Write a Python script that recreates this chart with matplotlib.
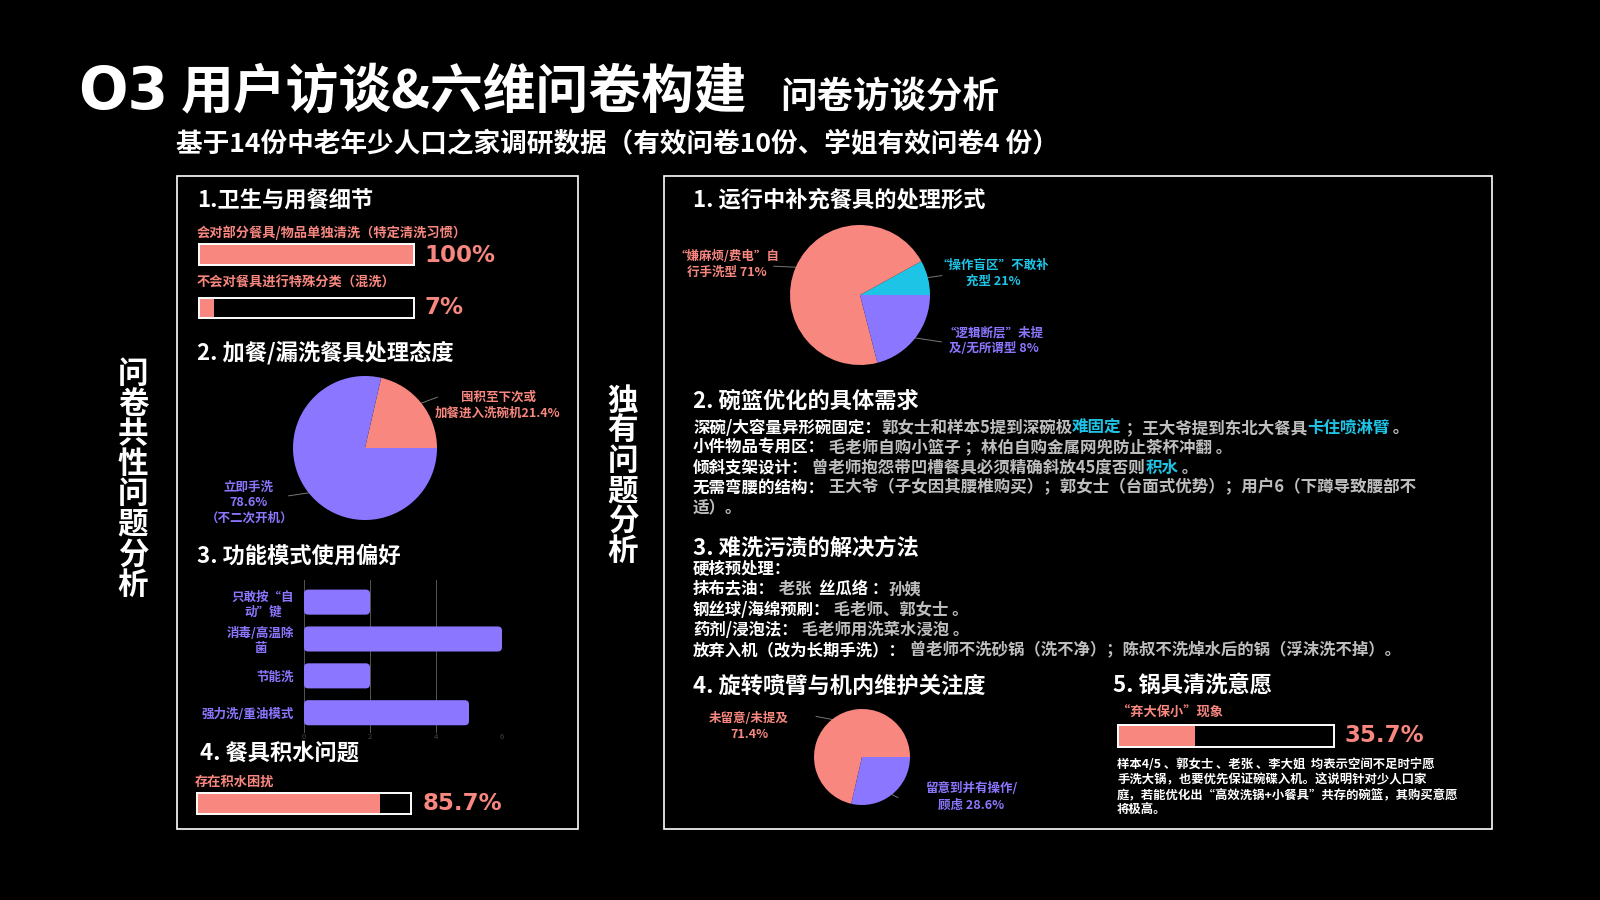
import matplotlib
matplotlib.use("Agg")
import matplotlib.pyplot as plt
import numpy as np
from matplotlib.patches import FancyBboxPatch, Rectangle

plt.rcParams['font.family'] = ['Noto Sans CJK SC', 'DejaVu Sans']

RED = "#F8877F"
PURPLE = "#8B77FF"
CYAN = "#1DC4E6"
GRAY = "#BEBEBE"
WHITE = "#FFFFFF"

# ---- data ----
hygiene_labels = ["会对部分餐具/物品单独清洗（特定清洗习惯）", "不会对餐具进行特殊分类（混洗）"]
hygiene_pct = [100, 7]

extra_share = [21.4, 78.6]
extra_labels = ["囤积至下次或\n加餐进入洗碗机21.4%", "立即手洗\n78.6%\n（不二次开机）"]

mode_labels = ["只敢按“自\n动”键", "消毒/高温除\n菌", "节能洗", "强力洗/重油模式"]
mode_counts = [2, 6, 2, 5]
mode_ticks = [0, 2, 4, 6]

water_label = "存在积水困扰"
water_pct = 85.7

refill_share = [8, 71, 21]   # slice sizes as drawn
refill_labels = ["“操作盲区”不敢补\n充型 21%", "“嫌麻烦/费电”自\n行手洗型 71%", "“逻辑断层”未提\n及/无所谓型 8%"]

arm_share = [71.4, 28.6]
arm_labels = ["未留意/未提及\n71.4%", "留意到并有操作/\n顾虑 28.6%"]

pot_label = "“弃大保小”现象"
pot_pct = 35.7

basket_lines = [
    [("深碗/大容量异形碗固定：", WHITE), ("郭女士和样本5提到深碗极", GRAY), ("难固定", CYAN),
     (" ；王大爷提到东北大餐具", GRAY), ("卡住喷淋臂", CYAN), (" 。", GRAY)],
    [("小件物品专用区：", WHITE), (" 毛老师自购小篮子 ；林伯自购金属网兜防止茶杯冲翻 。", GRAY)],
    [("倾斜支架设计：", WHITE), (" 曾老师抱怨带凹槽餐具必须精确斜放45度否则", GRAY), ("积水", CYAN), (" 。", GRAY)],
    [("无需弯腰的结构：", WHITE), (" 王大爷（子女因其腰椎购买）；郭女士（台面式优势）；用户6（下蹲导致腰部不", GRAY)],
    [("适）。", GRAY)],
]
stain_lines = [
    [("硬核预处理：", WHITE)],
    [("抹布去油：", WHITE), (" 老张  ", GRAY), ("丝瓜络 ：", WHITE), ("孙姨", GRAY)],
    [("钢丝球/海绵预刷：", WHITE), (" 毛老师、郭女士 。", GRAY)],
    [("药剂/浸泡法：", WHITE), (" 毛老师用洗菜水浸泡 。", GRAY)],
    [("放弃入机（改为长期手洗）：", WHITE), (" 曾老师不洗砂锅（洗不净）；陈叔不洗焯水后的锅（浮沫洗不掉）。", GRAY)],
]
pot_text = ["样本4/5 、郭女士 、老张 、李大姐  均表示空间不足时宁愿",
            "手洗大锅，也要优先保证碗碟入机。这说明针对少人口家",
            "庭，若能优化出“高效洗锅+小餐具”共存的碗篮，其购买意愿",
            "将极高。"]

# ---- figure ----
fig = plt.figure(figsize=(16, 9), dpi=100, facecolor="black")
bg = fig.add_axes([0, 0, 1, 1])
bg.set_xlim(0, 1600)
bg.set_ylim(900, 0)
bg.axis("off")
renderer = fig.canvas.get_renderer()


def px_axes(x0, y0, x1, y1):
    return fig.add_axes([x0 / 1600, 1 - y1 / 900, (x1 - x0) / 1600, (y1 - y0) / 900])


def txt(x, y, s, size, color=WHITE, **kw):
    kw.setdefault("va", "center")
    kw.setdefault("ha", "left")
    return bg.text(x, y, s, fontsize=size, color=color, fontweight="bold", **kw)


def rich(x, y, parts, size):
    for s, c in parts:
        t = txt(x, y, s, size, c)
        x += t.get_window_extent(renderer=renderer).width


def progress(x0, y0, x1, y1, pct):
    ax = px_axes(x0, y0, x1, y1)
    ax.barh([0], [pct], height=1, color=RED)
    ax.set_xlim(0, 100)
    ax.set_ylim(-0.5, 0.5)
    ax.set_facecolor("black")
    ax.set_xticks([])
    ax.set_yticks([])
    for s in ax.spines.values():
        s.set_color(WHITE)
        s.set_linewidth(1.4)


def pie(cx, cy, r, vals, colors):
    ax = px_axes(cx - r, cy - r, cx + r, cy + r)
    ax.pie(vals, colors=colors, startangle=0, counterclock=True, radius=1,
           wedgeprops=dict(linewidth=0))
    ax.set_xlim(-1, 1)
    ax.set_ylim(-1, 1)
    ax.set_aspect("equal")
    # mid angles of slices
    edges = np.cumsum([0] + list(vals)) / sum(vals) * 360
    return [(edges[i] + edges[i + 1]) / 2 for i in range(len(vals))]


def leader(cx, cy, r, ang, dx, dy):
    a = np.radians(ang)
    x0, y0 = cx + r * np.cos(a), cy - r * np.sin(a)
    bg.plot([x0, x0 + dx], [y0, y0 + dy], color="#777777", lw=0.7)


# ---- headers ----
txt(78, 92, "O3", 42, family="DejaVu Sans")
txt(181, 92, "用户访谈&六维问卷构建", 38)
txt(780, 97, "问卷访谈分析", 26.3)
txt(176, 145, "基于14份中老年少人口之家调研数据（有效问卷10份、学姐有效问卷4 份）", 19.2)

# panels
bg.add_patch(Rectangle((177, 176), 401, 653, fill=False, edgecolor=WHITE, lw=1.2))
bg.add_patch(Rectangle((664, 176), 828, 653, fill=False, edgecolor=WHITE, lw=1.2))

for i, ch in enumerate("问卷共性问题分析"):
    txt(133, 374 + i * 30.1, ch, 22, ha="center")
for i, ch in enumerate("独有问题分析"):
    txt(623, 401 + i * 30.0, ch, 22, ha="center")

# ---- left panel ----
txt(197, 200, "1.卫生与用餐细节", 16)
txt(197, 233, hygiene_labels[0], 9.5, RED)
progress(199, 244, 414, 265, hygiene_pct[0])
txt(424, 255, f"{hygiene_pct[0]}%", 16.5, RED, family="DejaVu Sans")
txt(197, 283, hygiene_labels[1], 9.5, RED)
progress(199, 298, 414, 318, hygiene_pct[1])
txt(424, 308, f"{hygiene_pct[1]}%", 16.5, RED, family="DejaVu Sans")

txt(197, 353, "2. 加餐/漏洗餐具处理态度", 16)
mids = pie(365, 448, 72, extra_share, [RED, PURPLE])
leader(365, 448, 72, mids[0], 16, -6)
leader(365, 448, 72, mids[1], -20, 3)
txt(498, 405, extra_labels[0], 9, RED, ha="center", multialignment="center", linespacing=1.25)
txt(249, 503, extra_labels[1], 9, PURPLE, ha="center", multialignment="center", linespacing=1.25)

txt(197, 556, "3. 功能模式使用偏好", 16)
ax3 = px_axes(304, 580, 502, 733)
ax3.set_facecolor("black")
ypos = np.arange(len(mode_counts))
bars = ax3.barh(ypos, mode_counts, height=0.68, color=PURPLE)
for b in bars:
    ax3.add_patch(FancyBboxPatch((b.get_x(), b.get_y()), b.get_width(), b.get_height(),
                                 boxstyle="round,pad=0,rounding_size=0.13", mutation_aspect=0.88,
                                 facecolor=PURPLE, edgecolor="none", zorder=3))
    b.set_visible(False)
ax3.set_xlim(0, 6)
ax3.set_ylim(len(mode_counts) - 0.45, -0.6)
ax3.set_yticks(ypos, mode_labels)
for t in ax3.get_yticklabels():
    t.set_multialignment("center")
    t.set_color(PURPLE)
    t.set_fontsize(9)
    t.set_fontweight("bold")
ax3.set_xticks(mode_ticks, [str(v) for v in mode_ticks])
ax3.tick_params(axis="x", colors="#444444", labelsize=5.5, length=0, pad=0)
ax3.tick_params(axis="y", length=0, pad=7)
for v in mode_ticks:
    ax3.axvline(v, color="#DDDDDD" if v == 6 else "#555555", lw=0.7, zorder=1)
for s in ax3.spines.values():
    s.set_visible(False)

txt(200, 753, "4. 餐具积水问题", 16)
txt(195, 782, water_label, 9.5, RED)
progress(197, 793, 411, 814, water_pct)
txt(423, 804, f"{water_pct}%", 16.5, RED, family="DejaVu Sans")

# ---- right panel ----
txt(693, 200, "1. 运行中补充餐具的处理形式", 16)
mids = pie(860, 295, 70, refill_share, [CYAN, RED, PURPLE])
leader(860, 295, 70, mids[0], 14, -2)
leader(860, 295, 70, mids[1], -22, -1)
leader(860, 295, 70, mids[2], 26, 4)
txt(993, 273, refill_labels[0], 9, CYAN, ha="center", multialignment="center", linespacing=1.3)
txt(727, 264, refill_labels[1], 9, RED, ha="center", multialignment="center", linespacing=1.3)
txt(994, 341, refill_labels[2], 9, PURPLE, ha="center", multialignment="center", linespacing=1.3)

txt(693, 401, "2. 碗篮优化的具体需求", 16)
for i, parts in enumerate(basket_lines):
    rich(693, 428 + i * 19.8, parts, 11.9)

txt(693, 548, "3. 难洗污渍的解决方法", 16)
for i, parts in enumerate(stain_lines):
    rich(693, 569 + i * 20.3, parts, 11.8)

txt(693, 686, "4. 旋转喷臂与机内维护关注度", 16)
mids = pie(862, 757, 48, arm_share, [RED, PURPLE])
leader(862, 757, 48, mids[0], -16, -3)
leader(862, 757, 48, mids[1], 6, 3)
txt(749, 727, arm_labels[0], 9, RED, ha="center", multialignment="center", linespacing=1.3)
txt(971, 797, arm_labels[1], 9, PURPLE, ha="center", multialignment="center", linespacing=1.3)

txt(1113, 686, "5. 锅具清洗意愿", 16)
txt(1117, 713, pot_label, 9.5, RED)
progress(1118, 725, 1334, 747, pot_pct)
txt(1345, 736, f"{pot_pct}%", 16.5, RED, family="DejaVu Sans")
for i, line in enumerate(pot_text):
    txt(1117, 765 + i * 15, line, 8.9)

fig.savefig("out.png", dpi=100, facecolor="black")
